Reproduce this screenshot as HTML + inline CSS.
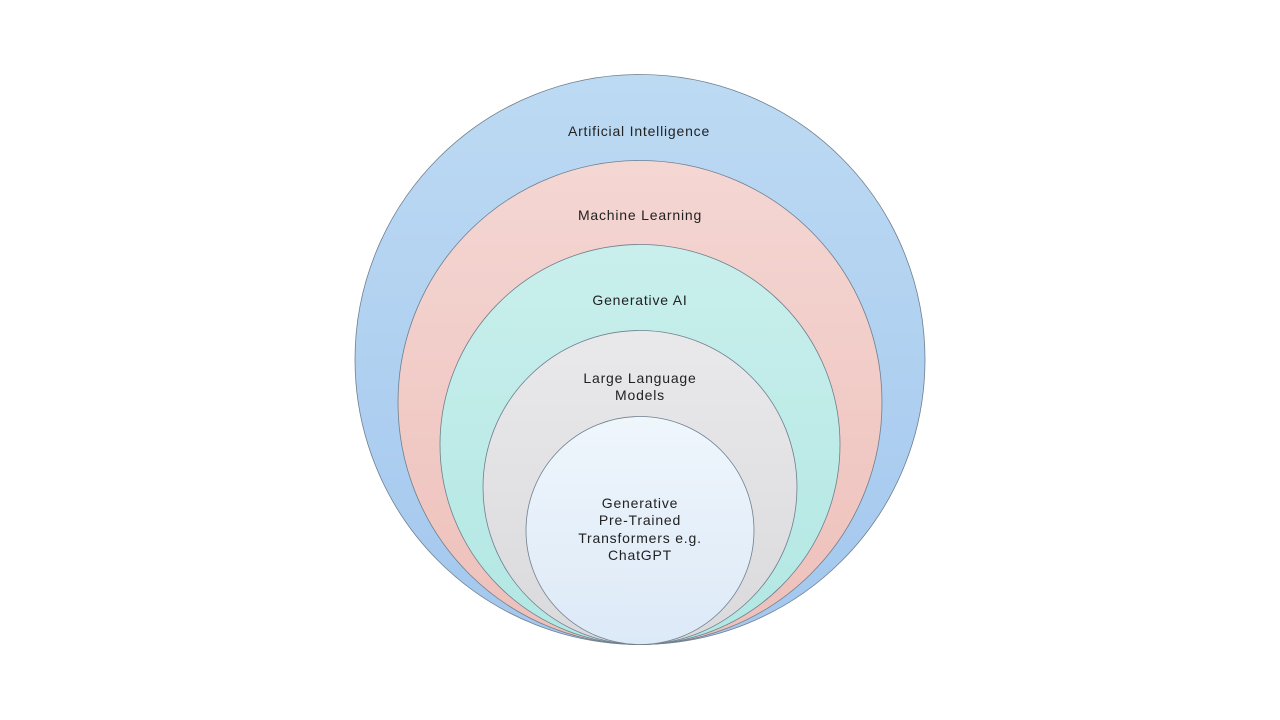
<!DOCTYPE html>
<html><head><meta charset="utf-8"><style>
html,body{margin:0;padding:0;background:#fff;}
svg{display:block}
text{font-family:"Liberation Sans","DejaVu Sans",sans-serif;font-size:14px;fill:#222;text-anchor:middle;letter-spacing:0.8px;}
</style></head><body>
<svg width="1280" height="720" viewBox="0 0 1280 720" xmlns="http://www.w3.org/2000/svg">
<defs>
<linearGradient id="g1" x1="0" y1="0" x2="0" y2="1"><stop offset="0" stop-color="#bddaf3"/><stop offset="1" stop-color="#a3c7ee"/></linearGradient>
<linearGradient id="g2" x1="0" y1="0" x2="0" y2="1"><stop offset="0" stop-color="#f4d6d3"/><stop offset="1" stop-color="#eec0ba"/></linearGradient>
<linearGradient id="g3" x1="0" y1="0" x2="0" y2="1"><stop offset="0" stop-color="#c9efec"/><stop offset="1" stop-color="#b2e7e3"/></linearGradient>
<linearGradient id="g4" x1="0" y1="0" x2="0" y2="1"><stop offset="0" stop-color="#e9e9eb"/><stop offset="1" stop-color="#dadadd"/></linearGradient>
<linearGradient id="g5" x1="0" y1="0" x2="0" y2="1"><stop offset="0" stop-color="#eff6fc"/><stop offset="1" stop-color="#dce9f7"/></linearGradient>
</defs>
<g stroke="#6f7f8e" stroke-width="0.8">
<circle cx="640" cy="359.5" r="285" fill="url(#g1)"/>
<circle cx="640" cy="402.5" r="242" fill="url(#g2)"/>
<circle cx="640" cy="444.5" r="200" fill="url(#g3)"/>
<circle cx="640" cy="487.5" r="157" fill="url(#g4)"/>
<circle cx="640" cy="530.5" r="114" fill="url(#g5)"/>
</g>
<text x="639" y="136">Artificial Intelligence</text>
<text x="640" y="220">Machine Learning</text>
<text x="640" y="305">Generative AI</text>
<text x="640" y="383">Large Language</text>
<text x="640" y="400">Models</text>
<text x="640" y="508">Generative</text>
<text x="640" y="525">Pre-Trained</text>
<text x="640" y="543">Transformers e.g.</text>
<text x="640" y="560">ChatGPT</text>
</svg>
</body></html>
